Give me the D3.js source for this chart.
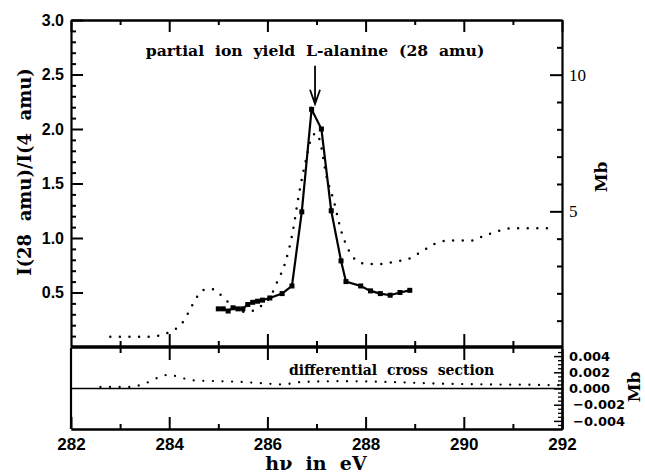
<!DOCTYPE html>
<html>
<head>
<meta charset="utf-8">
<script src="https://cdn.jsdelivr.net/npm/d3@7"></script>
<style>
  body { margin: 0; background: #fff; }
  svg { display: block; }
  .axis path, .axis line { stroke: #000; }
  .axis text { fill: #000; }
</style>
</head>
<body>
<div id="chart"></div>
<script>
// partial ion yield L-alanine (28 amu), ratio I(28 amu)/I(4 amu)
var yieldEnergy = [285.0, 285.1, 285.2, 285.3, 285.4, 285.5, 285.6, 285.7, 285.8, 285.9, 286.05, 286.3, 286.5,
  286.7, 286.9, 287.1, 287.3, 287.5, 287.6, 287.9, 288.1, 288.3, 288.5, 288.7, 288.9];
var yieldRatio = [0.35, 0.35, 0.33, 0.36, 0.35, 0.35, 0.39, 0.41, 0.42, 0.43, 0.45, 0.49, 0.56,
  1.24, 2.18, 2.00, 1.25, 0.79, 0.60, 0.56, 0.515, 0.49, 0.475, 0.50, 0.52];

// absorption cross section (Mb), dotted curve
var xsEnergy = [282.8, 283.6, 283.85, 284.0, 284.15, 284.3, 284.45, 284.6, 284.75, 284.9, 285.05, 285.2, 285.35,
  285.5, 285.7, 285.9, 286.05, 286.2, 286.35, 286.5, 286.65, 286.8, 286.9, 287.0, 287.08, 287.2, 287.35,
  287.5, 287.65, 287.8, 288.0, 288.3, 288.6, 288.9, 289.1, 289.3, 289.5, 289.7, 290.2, 290.4, 290.6,
  290.8, 291.0, 291.8];
var xsMb = [0.41, 0.41, 0.48, 0.58, 0.72, 1.0, 1.5, 1.95, 2.15, 2.15, 1.94, 1.68, 1.45,
  1.33, 1.36, 1.58, 1.85, 2.42, 3.05, 4.1, 5.7, 7.0, 7.7, 7.86, 7.5, 6.3, 5.4,
  4.3, 3.6, 3.22, 3.08, 3.07, 3.16, 3.28, 3.48, 3.7, 3.88, 3.93, 3.93, 4.1, 4.22,
  4.33, 4.38, 4.38];

// differential cross section (Mb), lower panel
var diffEnergy = [282.6, 283.2, 283.5, 283.8, 284.0, 284.2, 284.5, 285.0, 285.5, 286.0, 286.3, 286.7,
  287.5, 288.5, 289.5, 290.5, 291.5, 292.0];
var diffMb = [0.0002, 0.0002, 0.0006, 0.0014, 0.0017, 0.0014, 0.001, 0.0009, 0.0008, 0.0006, 0.0005, 0.0008,
  0.0009, 0.0008, 0.0006, 0.0005, 0.00045, 0.0004];

// tick values
var xMajor = [282, 284, 286, 288, 290, 292];
var xMinor = [283, 285, 287, 289, 291];
var leftMajor = [0.5, 1.0, 1.5, 2.0, 2.5, 3.0];
var leftMinor = [0.1, 0.2, 0.3, 0.4, 0.6, 0.7, 0.8, 0.9, 1.1, 1.2, 1.3, 1.4, 1.6, 1.7, 1.8, 1.9,
  2.1, 2.2, 2.3, 2.4, 2.6, 2.7, 2.8, 2.9];
var rightMajor = [5, 10];
var rightMinor = [1, 2, 3, 4, 6, 7, 8, 9, 11];
var diffMajor = [-0.004, -0.002, 0, 0.002, 0.004];
var diffMinor = [-0.0045, -0.0035, -0.003, -0.0025, -0.0015, -0.001, -0.0005,
  0.0005, 0.001, 0.0015, 0.0025, 0.003, 0.0035, 0.0045];

var arrowEnergy = 286.97;

var svgWidth = 645;
var svgHeight = 475;

var svg = d3.select('#chart').append('svg')
  .attr('width', svgWidth)
  .attr('height', svgHeight);

// scales
var x = d3.scaleLinear().domain([282, 292]).range([71, 562]);
var yLeft = d3.scaleLinear().domain([0, 3]).range([347, 20]);
var yMb = d3.scaleLinear().domain([0, 12]).range([348, 20]);
var yDiff = d3.scaleLinear().domain([-0.005, 0.005]).range([429, 348]);

var serif = '"DejaVu Serif", serif';
var sans = '"Liberation Sans", Arial, sans-serif';

function styleAxis(g, width) {
  g.classed('axis', true);
  g.selectAll('path').attr('stroke-width', width);
  g.selectAll('line').attr('stroke-width', 2);
}

// left axis of upper panel
svg.append('g')
  .attr('transform', 'translate(71,0)')
  .call(d3.axisLeft(yLeft).tickValues(leftMinor).tickSize(-5).tickSizeOuter(0).tickFormat(''))
  .call(styleAxis, 2)
  .select('path').remove();

var leftAxis = svg.append('g')
  .attr('transform', 'translate(71,0)')
  .call(d3.axisLeft(yLeft).tickValues(leftMajor).tickSize(-12).tickSizeOuter(0)
    .tickPadding(7).tickFormat(d3.format('.1f')))
  .call(styleAxis, 2.2);
leftAxis.selectAll('text')
  .style('font-family', sans).style('font-weight', 'bold').style('font-size', '16px');

// left line of lower panel
svg.append('line')
  .attr('x1', 71).attr('x2', 71)
  .attr('y1', yDiff(-0.005)).attr('y2', yDiff(0.005))
  .attr('stroke', '#000').attr('stroke-width', 2.2);

// right axis of upper panel (Mb)
svg.append('g')
  .attr('transform', 'translate(562,0)')
  .call(d3.axisRight(yMb).tickValues(rightMinor).tickSize(-5).tickSizeOuter(0).tickFormat(''))
  .call(styleAxis, 2)
  .select('path').remove();

var rightAxis = svg.append('g')
  .attr('transform', 'translate(562,0)')
  .call(d3.axisRight(yMb).tickValues(rightMajor).tickSize(-12).tickSizeOuter(0).tickPadding(7))
  .call(styleAxis, 2.2);
rightAxis.selectAll('text')
  .style('font-family', '"Liberation Serif", serif').style('font-size', '17px');

// right axis of lower panel
svg.append('g')
  .attr('transform', 'translate(562,0)')
  .call(d3.axisRight(yDiff).tickValues(diffMinor).tickSize(-4).tickSizeOuter(0).tickFormat(''))
  .call(styleAxis, 2.2)
  .selectAll('line').attr('stroke-width', 1.3);

var diffAxis = svg.append('g')
  .attr('transform', 'translate(562,0)')
  .call(d3.axisRight(yDiff).tickValues(diffMajor).tickSize(-8).tickSizeOuter(0)
    .tickFormat(function(d) { return d < 0 ? '\u2212' + d3.format('.3f')(-d) : d3.format('.3f')(d); }))
  .call(styleAxis, 2.2);
diffAxis.selectAll('line').attr('stroke-width', 1.5);
diffAxis.selectAll('text')
  .attr('x', function(d) { return d < 0 ? 11 : 7; })
  .style('font-family', '"DejaVu Sans", sans-serif').style('font-weight', 'bold').style('font-size', '13px');

// top axis
svg.append('g')
  .attr('transform', 'translate(0,20)')
  .call(d3.axisTop(x).tickValues(xMinor).tickSize(-5).tickSizeOuter(0).tickFormat(''))
  .call(styleAxis, 2.2);
svg.append('g')
  .attr('transform', 'translate(0,20)')
  .call(d3.axisTop(x).tickValues(xMajor).tickSize(-12).tickSizeOuter(0).tickFormat(''))
  .call(styleAxis, 2.2);

// panel separator with ticks on both sides
[d3.axisTop, d3.axisBottom].forEach(function(axisFn) {
  svg.append('g')
    .attr('transform', 'translate(0,' + yLeft(0) + ')')
    .call(axisFn(x).tickValues(xMinor).tickSize(6).tickSizeOuter(0).tickFormat(''))
    .call(styleAxis, 0)
    .select('path').remove();
  svg.append('g')
    .attr('transform', 'translate(0,' + yLeft(0) + ')')
    .call(axisFn(x).tickValues(xMajor.slice(1, 5)).tickSize(13).tickSizeOuter(0).tickFormat(''))
    .call(styleAxis, 0)
    .select('path').remove();
});
svg.append('line')
  .attr('x1', x(282)).attr('x2', x(292))
  .attr('y1', yLeft(0)).attr('y2', yLeft(0))
  .attr('stroke', '#000').attr('stroke-width', 3.5);

// bottom axis
svg.append('g')
  .attr('transform', 'translate(0,' + yDiff(-0.005) + ')')
  .call(d3.axisBottom(x).tickValues(xMinor).tickSize(-5).tickSizeOuter(0).tickFormat(''))
  .call(styleAxis, 2.2);
var bottomAxis = svg.append('g')
  .attr('transform', 'translate(0,' + yDiff(-0.005) + ')')
  .call(d3.axisBottom(x).tickValues(xMajor).tickSize(-12).tickSizeOuter(0).tickPadding(9))
  .call(styleAxis, 2.2);
bottomAxis.selectAll('text')
  .style('font-family', sans).style('font-weight', 'bold').style('font-size', '17px');

// zero line of lower panel
svg.append('line')
  .attr('x1', x(282)).attr('x2', x(292))
  .attr('y1', yDiff(0)).attr('y2', yDiff(0))
  .attr('stroke', '#000').attr('stroke-width', 1.6);

// dotted absorption curve
var xsLine = d3.line()
  .x(function(d, i) { return x(xsEnergy[i]); })
  .y(function(d) { return yMb(d); })
  .curve(d3.curveMonotoneX);

svg.append('path')
  .datum(xsMb)
  .attr('d', xsLine)
  .attr('fill', 'none')
  .attr('stroke', '#000')
  .attr('stroke-width', 2.5)
  .attr('stroke-linecap', 'round')
  .attr('stroke-dasharray', '0 9.6');

// dotted differential cross section
var diffLine = d3.line()
  .x(function(d, i) { return x(diffEnergy[i]); })
  .y(function(d) { return yDiff(d); })
  .curve(d3.curveMonotoneX);

svg.append('path')
  .datum(diffMb)
  .attr('d', diffLine)
  .attr('fill', 'none')
  .attr('stroke', '#000')
  .attr('stroke-width', 2.3)
  .attr('stroke-linecap', 'round')
  .attr('stroke-dasharray', '0 9.6');

// ion yield line with markers
var yieldLine = d3.line()
  .x(function(d, i) { return x(yieldEnergy[i]); })
  .y(function(d) { return yLeft(d); });

svg.append('path')
  .datum(yieldRatio)
  .attr('d', yieldLine)
  .attr('fill', 'none')
  .attr('stroke', '#000')
  .attr('stroke-width', 2.2);

svg.selectAll('.marker')
  .data(yieldRatio)
  .enter()
  .append('rect')
  .classed('marker', true)
  .attr('x', function(d, i) { return x(yieldEnergy[i]) - 2.5; })
  .attr('y', function(d) { return yLeft(d) - 2.5; })
  .attr('width', 5)
  .attr('height', 5)
  .attr('fill', '#000');

// arrow at the peak
var ax = x(arrowEnergy);
svg.append('line')
  .attr('x1', ax).attr('x2', ax)
  .attr('y1', yLeft(2.58)).attr('y2', yLeft(2.23))
  .attr('stroke', '#000').attr('stroke-width', 1.8);
svg.append('path')
  .attr('d', 'M' + (ax - 5) + ',' + yLeft(2.36) + 'L' + ax + ',' + yLeft(2.23) + 'L' + (ax + 5) + ',' + yLeft(2.36))
  .attr('fill', 'none').attr('stroke', '#000').attr('stroke-width', 1.8);

// annotations
svg.append('text')
  .attr('x', ax)
  .attr('y', 56)
  .attr('text-anchor', 'middle')
  .style('font-family', serif).style('font-weight', 'bold').style('font-size', '15.6px')
  .style('white-space', 'pre')
  .text('partial  ion  yield  L-alanine  (28  amu)');

svg.append('text')
  .attr('x', x(288.53))
  .attr('y', 375)
  .attr('text-anchor', 'middle')
  .style('font-family', serif).style('font-weight', 'bold').style('font-size', '14px')
  .style('white-space', 'pre')
  .text('differential  cross  section');

// axis titles
svg.append('text')
  .attr('transform', 'translate(31,172) rotate(-90)')
  .attr('text-anchor', 'middle')
  .style('font-family', serif).style('font-weight', 'bold').style('font-size', '18px')
  .style('white-space', 'pre')
  .text('I(28  amu)/I(4  amu)');

svg.append('text')
  .attr('transform', 'translate(607,177) rotate(-90)')
  .attr('text-anchor', 'middle')
  .style('font-family', serif).style('font-weight', 'bold').style('font-size', '17px')
  .text('Mb');

svg.append('text')
  .attr('transform', 'translate(640,387) rotate(-90)')
  .attr('text-anchor', 'middle')
  .style('font-family', serif).style('font-weight', 'bold').style('font-size', '17px')
  .text('Mb');

svg.append('text')
  .attr('x', 316)
  .attr('y', 470)
  .attr('text-anchor', 'middle')
  .style('font-family', serif).style('font-weight', 'bold').style('font-size', '19px')
  .style('white-space', 'pre')
  .text('h\u03bd  in  eV');
</script>
</body>
</html>
